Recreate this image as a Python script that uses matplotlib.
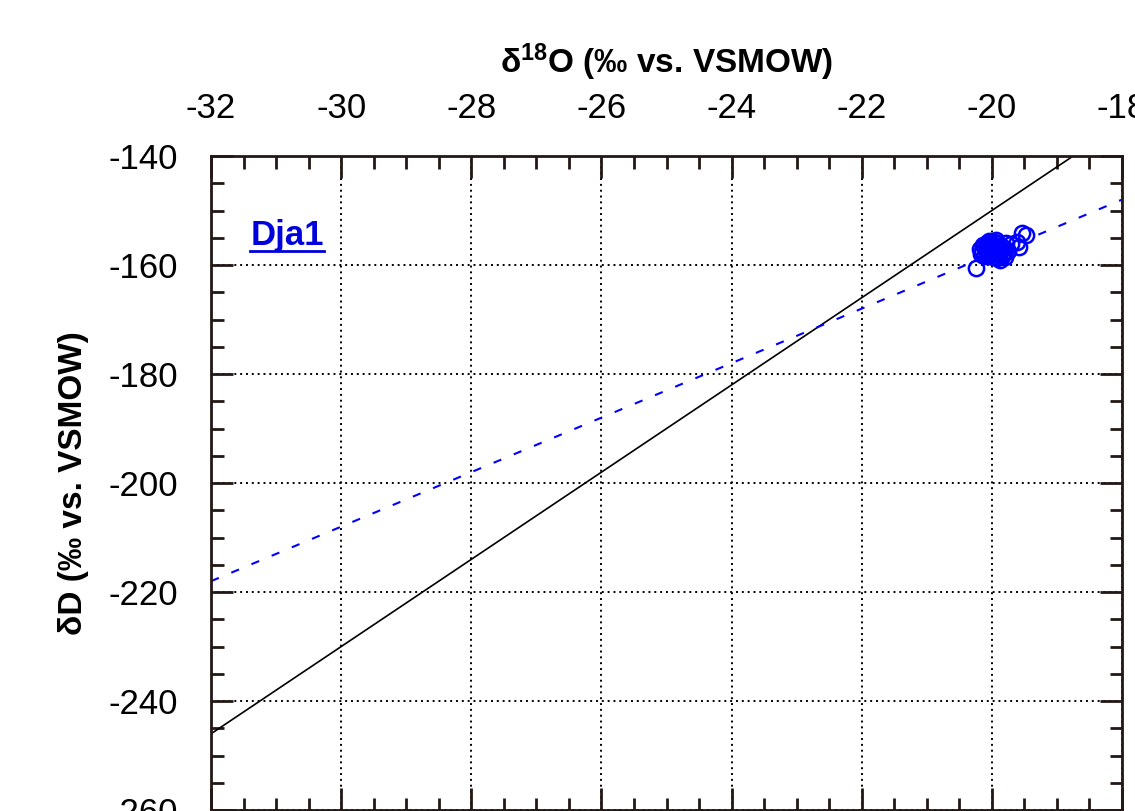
import numpy as np
import matplotlib
matplotlib.use("Agg")
import matplotlib.pyplot as plt
from matplotlib.ticker import MultipleLocator
from matplotlib.lines import Line2D

plt.rcParams['font.family'] = ['Liberation Sans', 'DejaVu Sans']
plt.rcParams['axes.unicode_minus'] = False
plt.rcParams['mathtext.fontset'] = 'custom'
plt.rcParams['mathtext.bf'] = 'Liberation Sans:bold'

# sample data (Dja1)
d18o = [-20.15, -20.10, -20.05, -20.00, -19.95, -19.90, -19.85, -20.12, -20.08,
        -20.02, -19.98, -19.92, -19.88, -19.82, -20.18, -20.06, -19.96, -19.90,
        -19.84, -20.10, -20.00, -19.94, -19.86, -20.04, -19.92, -20.24, -19.62,
        -19.58, -19.54, -19.47, -19.75, -19.70, -19.88, -19.80, -20.14, -20.03,
        -19.97, -19.78, -20.08, -19.93, -20.16, -19.99, -19.83, -20.07, -19.91]
dD = [-157.5, -156.8, -157.9, -156.2, -157.0, -158.2, -156.6, -158.4, -155.9,
      -157.3, -158.6, -156.0, -157.6, -156.9, -157.1, -156.4, -155.7, -157.8,
      -158.3, -157.0, -158.0, -156.5, -157.2, -155.6, -158.8, -160.6, -155.8,
      -156.7, -154.2, -154.5, -157.4, -156.2, -159.0, -158.5, -156.3, -156.9,
      -157.5, -156.0, -157.2, -155.4, -158.0, -157.7, -157.9, -158.2, -156.8]

# lines: GMWL and local line
line_x = [-32, -18]
gmwl_slope, gmwl_icpt = 8.0, 10.0
lmwl_slope, lmwl_icpt = 5.0, -58.0

fig = plt.figure(figsize=(11.35, 8.11), dpi=100)
ax = fig.add_axes([0.186, 0.0012, 0.8025, 0.8064])

lx = np.array(line_x, dtype=float)
ax.plot(lx, gmwl_slope * lx + gmwl_icpt, color='black', lw=1.2)
ax.plot(lx, lmwl_slope * lx + lmwl_icpt, color='#0000ff', lw=1.5,
        dashes=(4.0, 6.5))
ax.plot(d18o, dD, 'o', mfc='none', mec='#0000ff', ms=11, mew=1.8)

ax.set_xlim(-32, -18)
ax.set_ylim(-260, -140)
ax.xaxis.set_major_locator(MultipleLocator(2))
ax.xaxis.set_minor_locator(MultipleLocator(0.5))
ax.yaxis.set_major_locator(MultipleLocator(20))
ax.yaxis.set_minor_locator(MultipleLocator(5))

ax.xaxis.tick_top()
ax.xaxis.set_label_position('top')
ax.tick_params(which='both', direction='in', top=True, bottom=True,
               left=True, right=True, labeltop=True, labelbottom=False,
               color='#231815', width=2)
ax.tick_params(which='major', length=16, labelsize=25)
ax.tick_params(axis='x', which='major', pad=22)
ax.tick_params(axis='y', which='major', pad=24)
ax.tick_params(which='minor', length=9)
for s in ax.spines.values():
    s.set_linewidth(2)
    s.set_color('#231815')

ax.grid(True, which='major', color='black', linestyle=(0, (1, 2)), lw=1.4)

ax.set_xlabel('δ$\\mathbf{^{18}}$O (‰ vs. VSMOW)', fontsize=24,
              fontweight='bold', labelpad=14)
ax.set_ylabel('δD (‰ vs. VSMOW)', fontsize=24, fontweight='bold',
              labelpad=14)

t = ax.text(-31.4, -154.5, 'Dja1', color='#0000dd', fontsize=25,
            fontweight='bold', va='center', ha='left')
fig.canvas.draw()
bb = t.get_window_extent()
fw, fh = fig.bbox.width, fig.bbox.height
fig.add_artist(Line2D([bb.x0 / fw, bb.x1 / fw], [(bb.y0 + 1) / fh] * 2,
                      color='#0000dd', lw=2, transform=fig.transFigure))

fig.savefig('out.png', dpi=100)
